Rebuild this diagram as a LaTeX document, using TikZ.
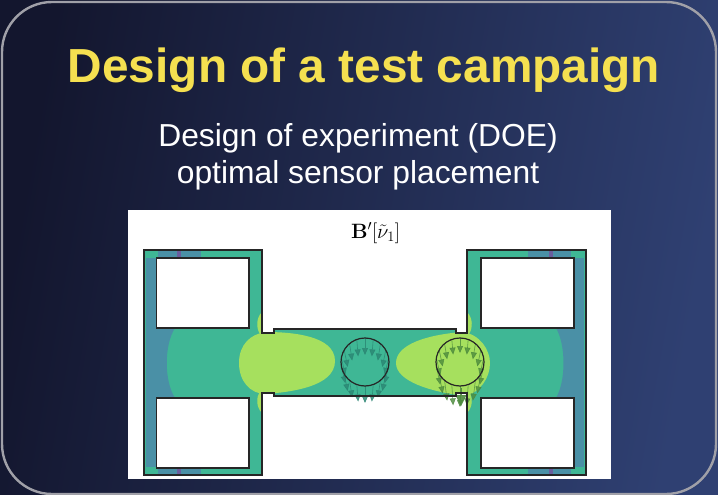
\documentclass[tikz,border=0pt]{standalone}
\usepackage[no-math]{fontspec}
\setmainfont{Liberation Sans}
\usetikzlibrary{arrows.meta}
\definecolor{slideL}{HTML}{13162E}
\definecolor{slideR}{HTML}{2F4072}
\definecolor{frameline}{HTML}{A0A0A8}
\definecolor{titlecol}{HTML}{F5E050}
\definecolor{fieldteal}{HTML}{3FB795}
\definecolor{fieldblue}{HTML}{4A90A6}
\definecolor{fieldlime}{HTML}{A6E05E}
\definecolor{fieldpurple}{HTML}{6A5E9E}
\definecolor{vecteal}{HTML}{2A8572}
\definecolor{vecgreen}{HTML}{4C8A3C}
\tikzset{
    titletext/.style={font=\fontsize{47.8}{52}\selectfont\bfseries, text=titlecol},
    subtext/.style={font=\fontsize{31.8}{37}\selectfont, text=white, align=center},
    outline/.style={draw=black!85, line width=1.2pt, line join=miter},
    vec/.style={-{Triangle[length=7pt,width=6pt]}, line width=0.6pt, opacity=0.8}
}
\def\platepath{(144,250) -- (262,250) -- (262,333) -- (274,333) -- (274,329) -- (456,329) -- (456,333) -- (467,333) -- (467,250) -- (586,250) -- (586,475) -- (467,475) -- (467,393) -- (456,393) -- (456,396) -- (274,396) -- (274,393) -- (262,393) -- (262,475) -- (144,475) -- cycle}
\begin{document}
\begin{tikzpicture}[x=1pt, y=-1pt]
    \useasboundingbox (0,0) rectangle (718,495);
    % Fundo do slide
    \shade[left color=slideL, right color=slideR, shading angle=80] (0,0) rectangle (718,495);
    \draw[frameline, line width=2.4pt, rounded corners=50pt] (2,2) rectangle (716,494);

    % Textos
    \node[titletext] (title) at (364,70) {Design of a test campaign};
    \node[subtext] (subtitle) at (358,157) {Design of experiment (DOE)\\optimal sensor placement};

    % Figura
    \fill[white] (128,210) rectangle (611,479);
    \node[font=\fontsize{21}{24}\selectfont] (figlabel) at (375.5,233) {$\mathbf{B}'[\tilde{\nu}_1]$};

    % Campo
    \begin{scope}
        \clip \platepath;
        \fill[fieldteal] (144,250) rectangle (586,475);
        % faixas azuis
        \fill[fieldblue] (146,258) rectangle (156,467);
        \fill[fieldblue] (574,258) rectangle (584,467);
        \fill[fieldblue] (150,328) -- (175,328) .. controls (164,345) and (164,381) .. (175,398) -- (150,398) -- cycle;
        \fill[fieldblue] (580,328) -- (556,328) .. controls (566,345) and (566,381) .. (556,398) -- (580,398) -- cycle;
        \foreach \xa/\xb/\xc in {158/201/179, 528/571/551} {
            \fill[fieldblue] (\xa,250) rectangle (\xb,258);
            \fill[fieldblue] (\xa,468) rectangle (\xb,475);
            \fill[fieldpurple] (\xc-2,250) rectangle (\xc+2,258);
            \fill[fieldpurple] (\xc-2,468) rectangle (\xc+2,475);
        }
        % zonas claras
        \fill[fieldlime] (239,363) .. controls (239,345) and (250,334) .. (266,332) .. controls (290,332) and (335,335) .. (335,361) .. controls (335,387) and (290,392) .. (266,394) .. controls (250,394) and (239,381) .. (239,363) -- cycle;
        \fill[fieldlime] (396,363) .. controls (396,345) and (425,335) .. (462,332) .. controls (480,334) and (490,350) .. (490,363) .. controls (490,378) and (480,392) .. (466,396) .. controls (430,392) and (396,381) .. (396,363) -- cycle;
        \foreach \xc in {262, 467} {
            \fill[fieldlime] (\xc,312) .. controls (\xc-6,318) and (\xc-6,328) .. (\xc-2,334) -- (\xc+2,334) .. controls (\xc+6,328) and (\xc+6,318) .. (\xc,312) -- cycle;
            \fill[fieldlime] (\xc,413) .. controls (\xc-6,407) and (\xc-6,397) .. (\xc-2,392) -- (\xc+2,392) .. controls (\xc+6,397) and (\xc+6,407) .. (\xc,413) -- cycle;
        }
    \end{scope}

    % Vetores
    \foreach \a in {10,30,...,350} {
        \draw[vec, vecteal] ({365+24*cos(\a)},{362+24*sin(\a)}) -- ++({-4*cos(\a)},17);
        \draw[vec, vecgreen] ({460+24*cos(\a)},{362+24*sin(\a)}) -- ++({-4*cos(\a)},{18+3*sin(\a)});
    }
    \draw[vecgreen, opacity=0.9, -{Triangle[length=11pt,width=11pt]}] (461,388) -- (461,406);

    % Contornos
    \draw[outline] \platepath;
    \foreach \xa/\xb in {156.5/249, 481/574} {
        \draw[outline, fill=white] (\xa,258) rectangle (\xb,328);
        \draw[outline, fill=white] (\xa,398) rectangle (\xb,468);
    }
    \draw[outline] (365,362) circle (24);
    \draw[outline] (460,362) circle (24);
\end{tikzpicture}
\end{document}
